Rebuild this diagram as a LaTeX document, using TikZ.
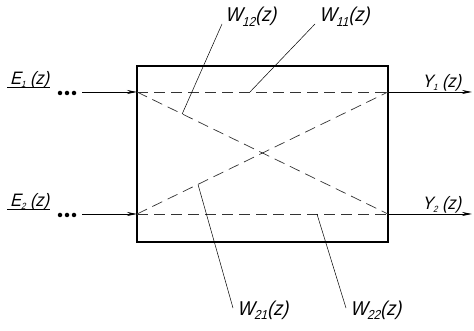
\documentclass[tikz,border=0pt]{standalone}
\usepackage{fontspec}
\setmainfont{Liberation Sans}
\newfontfamily\gost[FakeSlant=0.25,FakeStretch=0.9]{Liberation Sans}
\usetikzlibrary{arrows.meta}
\newcommand\iosub[1]{\raisebox{-0.25ex}{\fontsize{9}{9}\selectfont #1}}
\newcommand\wsub[1]{\raisebox{-0.45ex}{\fontsize{13}{13}\selectfont #1}}
\tikzset{
  boxstyle/.style={draw, line width=1.5pt, inner sep=0pt, minimum width=251pt, minimum height=176pt},
  sig/.style={line width=0.8pt, -{Stealth[length=10pt,width=4pt]}},
  dashline/.style={line width=0.7pt, dash pattern=on 11pt off 6pt, black!80},
  lead/.style={line width=0.5pt},
  iolab/.style={inner sep=0pt, font=\gost\fontsize{18}{20}\selectfont},
  wlab/.style={inner sep=0pt, font=\gost\fontsize{20}{22}\selectfont},
  dotstyle/.style={circle, fill, inner sep=0pt, minimum size=4.5pt}
}
\begin{document}
\begin{tikzpicture}[x=1pt,y=-1pt]
\useasboundingbox (0,0) rectangle (474,331);
% box
\node[boxstyle] (box) at (262.5,154) {};
% corners of the signal rows
\coordinate (a1) at (137,92);
\coordinate (b1) at (388,92);
\coordinate (a2) at (137,214);
\coordinate (b2) at (388,214);
% dashed paths
\draw[dashline] (a1) -- (b1);
\draw[dashline] (a2) -- (b2);
\draw[dashline] (a1) -- (b2);
\draw[dashline] (a2) -- (b1);
% points on the paths for the leaders
\path (a1) -- (b1) coordinate[pos=0.45] (p11);
\path (a1) -- (b2) coordinate[pos=0.18] (p12);
\path (a2) -- (b1) coordinate[pos=0.243] (p21);
\path (a2) -- (b2) coordinate[pos=0.717] (p22);
% inputs
\coordinate (in1) at (82,92);
\coordinate (in2) at (82,214);
\draw[sig] (in1) -- (a1);
\draw[sig] (in2) -- (a2);
\node[dotstyle] (d11) at (60,93) {};
\node[dotstyle] (d12) at (67,93) {};
\node[dotstyle] (d13) at (74,93) {};
\node[dotstyle] (d21) at (60,215) {};
\node[dotstyle] (d22) at (67,215) {};
\node[dotstyle] (d23) at (74,215) {};
\node[iolab, anchor=base west] (E1) at (10,85) {E\iosub{1} (z)};
\node[iolab, anchor=base west] (E2) at (10,207) {E\iosub{2} (z)};
\draw[lead] ([xshift=-3pt,yshift=-2pt]E1.base west) -- ([xshift=1pt,yshift=-2pt]E1.base east);
\draw[lead] ([xshift=-3pt,yshift=-2pt]E2.base west) -- ([xshift=1pt,yshift=-2pt]E2.base east);
% outputs
\coordinate (out1) at (472,92);
\coordinate (out2) at (472,214);
\draw[sig] (b1) -- (out1);
\draw[sig] (b2) -- (out2);
\node[iolab, anchor=base west] (Y1) at (422,88) {Y\iosub{1} (z)};
\node[iolab, anchor=base west] (Y2) at (422,210) {Y\iosub{2} (z)};
% transfer function labels
\node[wlab, anchor=base west] (W12) at (225,22) {W\wsub{12}(z)};
\node[wlab, anchor=base west] (W11) at (319,22) {W\wsub{11}(z)};
\node[wlab, anchor=base west] (W21) at (237,315) {W\wsub{21}(z)};
\node[wlab, anchor=base west] (W22) at (350,315) {W\wsub{22}(z)};
\coordinate (s12) at (222,24);
\coordinate (s11) at (315,24);
\coordinate (s21) at (233,308);
\coordinate (s22) at (346,308);
\draw[lead] (s12) -- (p12);
\draw[lead] (s11) -- (p11);
\draw[lead] (s21) -- (p21);
\draw[lead] (s22) -- (p22);
\end{tikzpicture}
\end{document}
